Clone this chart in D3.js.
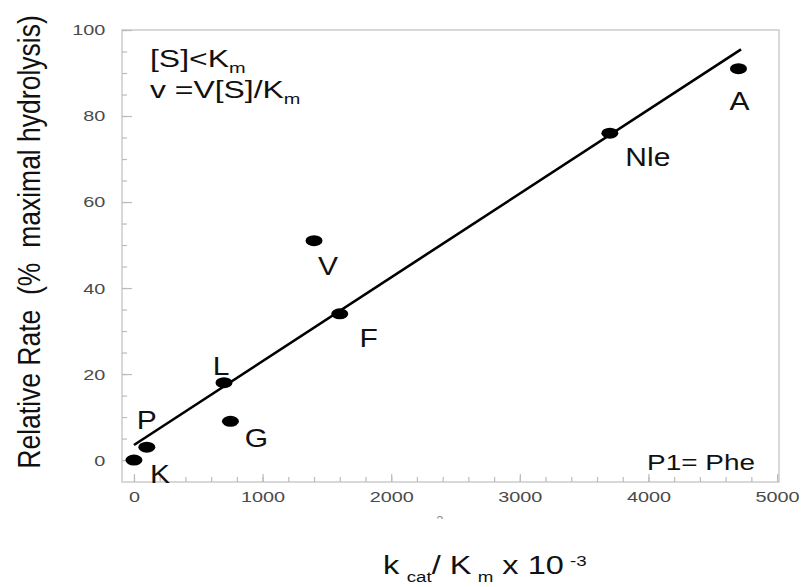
<!DOCTYPE html>
<html>
<head>
<meta charset="utf-8">
<script src="https://cdn.jsdelivr.net/npm/d3@7"></script>
<style>
  body { margin: 0; background: #fff; }
  svg { display: block; font-family: "Liberation Sans", Arial, sans-serif; }
  text { white-space: pre; }
</style>
</head>
<body>
<svg width="804" height="587"></svg>
<script>
// residues (P1 position) and their values
const residues = ["K", "P", "L", "G", "F", "V", "Nle", "A"];
const kcatKm = [0, 100, 700, 750, 1600, 1400, 3700, 4700];
const relRate = [0, 3, 18, 9, 34, 51, 76, 91];

// fitted line end points
const fitX = [0, 4720];
const fitY = [3.5, 95.5];

const xTicks = [0, 1000, 2000, 3000, 4000, 5000];
const yTicks = [0, 20, 40, 60, 80, 100];
const xMinor = d3.range(0, 5001, 200);
const yMinor = d3.range(0, 101, 5);

// where each letter sits relative to its dot
const labelShift = {
  K: [26, 14], P: [0, -27], L: [-3, -17], G: [26, 17],
  F: [29, 24], V: [14, 25], Nle: [38, 24], A: [1, 32]
};

const svg = d3.select("svg");
const plotL = 122, plotR = 779, plotT = 30, plotB = 482;

const x = d3.scaleLinear().domain([-93, 5015]).range([plotL, plotR]);
const y = d3.scaleLinear().domain([-5.1, 100]).range([plotB, plotT]);

// frame
svg.append("rect")
  .attr("x", plotL).attr("y", plotT)
  .attr("width", plotR - plotL).attr("height", plotB - plotT)
  .attr("fill", "none").attr("stroke", "#cfcfcf").attr("stroke-width", 1.6);

function styleAxis(g) {
  g.select(".domain").remove();
  g.selectAll("line").attr("stroke", "#bbb").attr("stroke-width", 1.2);
  g.selectAll("text")
    .attr("fill", "#4a4a4a")
    .attr("font-size", 15.5)
    .attr("font-family", "Liberation Sans, Arial, sans-serif")
    .attr("transform", "scale(1.28,1)");
}

// minor ticks
svg.append("g")
  .attr("transform", "translate(" + plotL + ",0)")
  .call(d3.axisLeft(y).tickValues(yMinor).tickSize(-5).tickFormat(""))
  .call(styleAxis);
svg.append("g")
  .attr("transform", "translate(0," + plotB + ")")
  .call(d3.axisBottom(x).tickValues(xMinor).tickSize(-5).tickFormat(""))
  .call(styleAxis);

// major ticks with labels
svg.append("g")
  .attr("transform", "translate(" + plotL + ",0)")
  .call(d3.axisLeft(y).tickValues(yTicks).tickSize(-10).tickPadding(13).tickFormat(d3.format("d")))
  .call(styleAxis);
svg.append("g")
  .attr("transform", "translate(0," + plotB + ")")
  .call(d3.axisBottom(x).tickValues(xTicks).tickSize(-8).tickPadding(9).tickFormat(d3.format("d")))
  .call(styleAxis);

// fitted line
svg.append("line")
  .attr("x1", x(fitX[0])).attr("y1", y(fitY[0]))
  .attr("x2", x(fitX[1])).attr("y2", y(fitY[1]))
  .attr("stroke", "#000").attr("stroke-width", 2.6);

// points
const pts = residues.map((r, i) => ({ name: r, kx: kcatKm[i], ry: relRate[i] }));

svg.selectAll("ellipse.pt")
  .data(pts)
  .enter()
  .append("ellipse")
  .attr("class", "pt")
  .attr("cx", d => x(d.kx))
  .attr("cy", d => y(d.ry))
  .attr("rx", 8.5)
  .attr("ry", 5.5)
  .attr("fill", "#000");

svg.selectAll("text.lab")
  .data(pts)
  .enter()
  .append("text")
  .attr("class", "lab")
  .attr("transform", d => "translate(" + (x(d.kx) + labelShift[d.name][0]) + "," +
    (y(d.ry) + labelShift[d.name][1]) + ") scale(1.2,1)")
  .attr("text-anchor", "middle")
  .attr("dy", "0.36em")
  .attr("font-size", 25)
  .attr("fill", "#111")
  .text(d => d.name);

// annotation top left
const note1 = svg.append("text")
  .attr("transform", "translate(150,67) scale(1.33,1)")
  .attr("font-size", 24).attr("fill", "#111");
note1.append("tspan").text("[S]<K");
note1.append("tspan").attr("font-size", 15).attr("dy", 6).text("m");

const note2 = svg.append("text")
  .attr("transform", "translate(150,98) scale(1.33,1)")
  .attr("font-size", 24).attr("fill", "#111");
note2.append("tspan").text("v =V[S]/K");
note2.append("tspan").attr("font-size", 15).attr("dy", 6).text("m");

svg.append("text")
  .attr("transform", "translate(755,470) scale(1.27,1)")
  .attr("text-anchor", "end")
  .attr("font-size", 22).attr("fill", "#111")
  .text("P1= Phe");

// y axis title
svg.append("text")
  .attr("transform", "translate(29,242) scale(1.15,1) rotate(-90)")
  .attr("text-anchor", "middle")
  .attr("dy", "0.35em")
  .attr("font-size", 26.5)
  .attr("fill", "#111")
  .text("Relative Rate  (%  maximal hydrolysis)");

// x axis title
const xt = svg.append("text")
  .attr("transform", "translate(383,574) scale(1.25,1)")
  .attr("font-size", 26).attr("fill", "#111");
xt.append("tspan").text("k");
xt.append("tspan").attr("font-size", 15).attr("dx", 6).attr("dy", 8).text("cat");
xt.append("tspan").attr("dy", -8).text("/ K");
xt.append("tspan").attr("font-size", 15).attr("dx", 5).attr("dy", 8).text("m");
xt.append("tspan").attr("dy", -8).text(" x 10");
xt.append("tspan").attr("font-size", 15).attr("dx", 5).attr("dy", -8).text("-3");

// stray clipped fragment under the axis
svg.append("clipPath").attr("id", "frag")
  .append("rect").attr("x", 425).attr("y", 505).attr("width", 40).attr("height", 14);
svg.append("text")
  .attr("clip-path", "url(#frag)")
  .attr("x", 432).attr("y", 525)
  .attr("font-size", 13).attr("fill", "#888")
  .text("-3");
</script>
</body>
</html>
